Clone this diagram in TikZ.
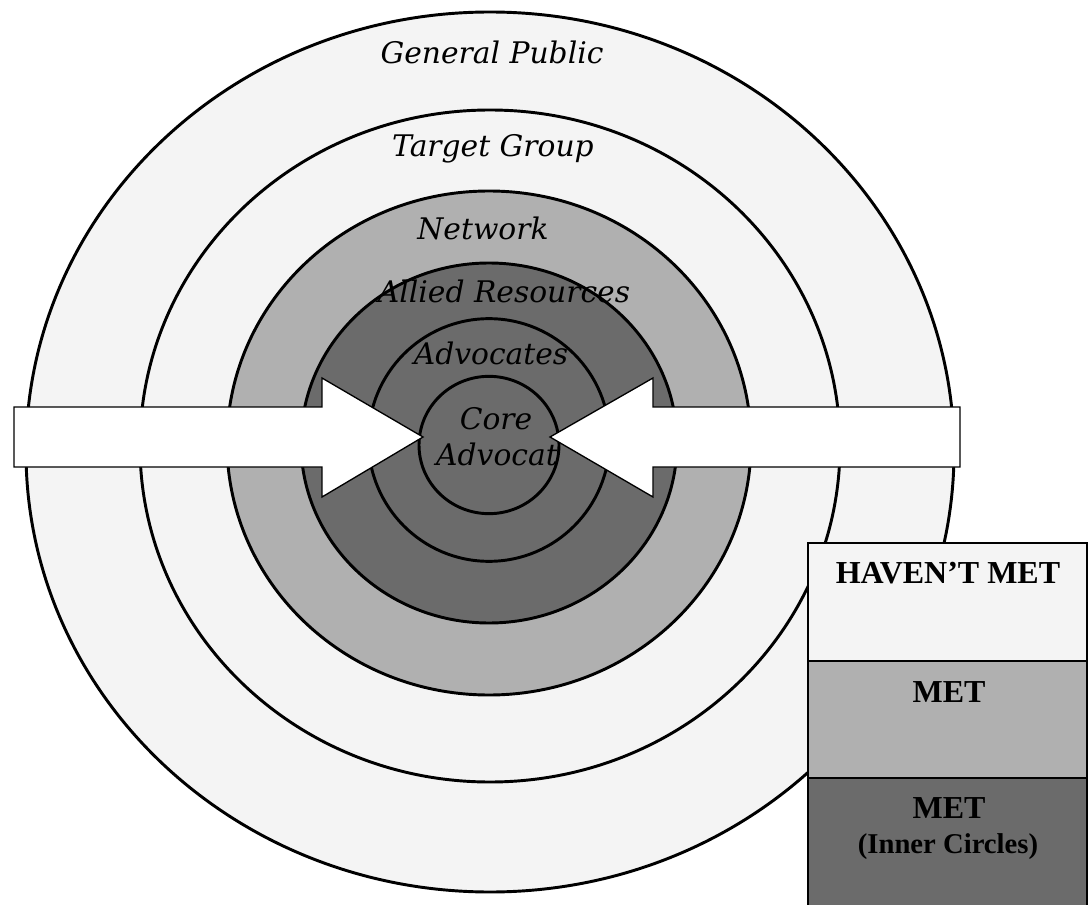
\documentclass[tikz,border=0pt]{standalone}
\usepackage{fontspec}
\newfontfamily\circfont{DejaVu Serif}
\newfontfamily\legfont{Liberation Serif}
\definecolor{lightgr}{HTML}{F4F4F4}
\definecolor{midgr}{HTML}{B0B0B0}
\definecolor{darkgr}{HTML}{6B6B6B}
\tikzset{
  ring/.style={draw=black, line width=2.2pt},
  clabel/.style={anchor=base, inner sep=0pt, font=\circfont\itshape\fontsize{22.3}{26}\selectfont},
  llabel/.style={anchor=base, inner sep=0pt, font=\legfont\bfseries\fontsize{24}{28}\selectfont},
  lsmall/.style={anchor=base, inner sep=0pt, font=\legfont\bfseries\fontsize{21.5}{25}\selectfont},
  bigarrow/.style={draw=black, fill=white, line width=1pt, line join=miter},
  legcell/.style={draw=black, line width=1.5pt}
}
\begin{document}
\begin{tikzpicture}[x=0.75pt,y=-0.75pt]
\useasboundingbox (0,0) rectangle (1088,905);
\clip (0,0) rectangle (1088,905);
% rings
\draw[ring, fill=lightgr] (490,452) ellipse [x radius=348pt, y radius=330pt];
\draw[ring, fill=lightgr] (490,446) ellipse [x radius=262.5pt, y radius=252pt];
\draw[ring, fill=midgr] (489,443) ellipse [x radius=196.5pt, y radius=189pt];
\draw[ring, fill=darkgr] (489,443) ellipse [x radius=141pt, y radius=135pt];
\draw[ring, fill=darkgr] (489,440) ellipse [x radius=90.5pt, y radius=91pt];
\draw[ring, fill=darkgr] (489,445) ellipse [x radius=52.5pt, y radius=51.5pt];
% ring labels
\node[clabel] (gp) at (492,64) {General Public};
\node[clabel] (tg) at (493,157) {Target Group};
\node[clabel] (nw) at (483,240) {Network};
\node[clabel] (ar) at (504,303) {Allied Resources};
\node[clabel] (ad) at (491,364) {Advocates};
\node[clabel] (co) at (496,429) {Core};
\node[clabel] (ca) at (497,465) {Advocat};
% arrows
\draw[bigarrow] (14,407) -- (322,407) -- (322,378) -- (423,437) -- (322,497) -- (322,467) -- (14,467) -- cycle;
\draw[bigarrow] (960,407) -- (653,407) -- (653,378) -- (550,437) -- (653,497) -- (653,467) -- (960,467) -- cycle;
% legend
\draw[legcell, fill=lightgr] (808,543) rectangle (1087,661);
\draw[legcell, fill=midgr] (808,661) rectangle (1087,778);
\draw[legcell, fill=darkgr] (808,778) rectangle (1087,912);
\node[llabel] (hm) at (948,583) {HAVEN’T MET};
\node[llabel] (m1) at (949,702) {MET};
\node[llabel] (m2) at (949,818) {MET};
\node[lsmall] (ic) at (948,853) {(Inner Circles)};
\end{tikzpicture}
\end{document}
